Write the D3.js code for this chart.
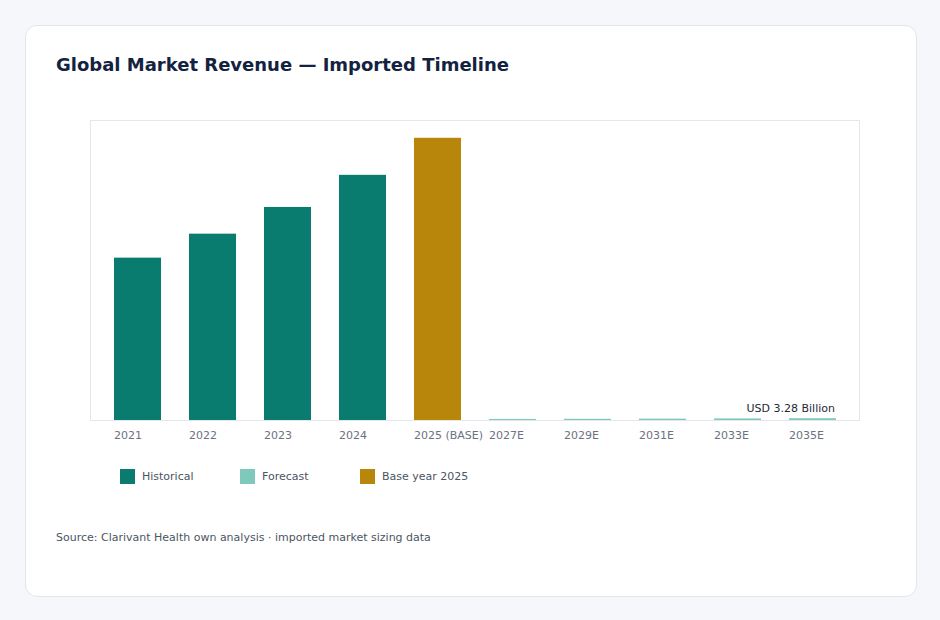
<!DOCTYPE html>
<html><head><meta charset="utf-8">
<script src="https://cdn.jsdelivr.net/npm/d3@7"></script>
<style>
html,body{margin:0;padding:0;background:#f5f7fa;}
body{width:940px;height:620px;position:relative;font-family:"DejaVu Sans",sans-serif;}
.card{position:absolute;left:25px;top:25px;width:890px;height:570px;background:#fff;border:1px solid #e1e6ec;border-radius:12px;}
svg{position:absolute;left:0;top:0;}
</style></head>
<body>
<div class="card"></div>
<svg id="chart" width="940" height="620"></svg>
<script>
const categories = ["2021","2022","2023","2024","2025 (BASE)","2027E","2029E","2031E","2033E","2035E"];
const values = [298, 342, 391, 450, 518, 1.9, 2.2, 2.5, 2.9, 3.28];
const kinds = ["hist","hist","hist","hist","base","fore","fore","fore","fore","fore"];
const legendLabels = ["Historical","Forecast","Base year 2025"];
const legendKinds = ["hist","fore","base"];
const colors = {hist:"#0a7c6f", fore:"#7fc8bc", base:"#b8860b"};

const svg = d3.select("#chart");
const plot = {x0:90, x1:860, y0:120, y1:420};

svg.append("text").attr("x",56).attr("y",71)
  .attr("font-size",18).attr("font-weight","bold").attr("fill","#13233f")
  .text("Global Market Revenue — Imported Timeline");

svg.append("rect").attr("x",plot.x0+0.5).attr("y",plot.y0+0.5)
  .attr("width",plot.x1-plot.x0-1).attr("height",plot.y1-plot.y0)
  .attr("fill","none").attr("stroke","#e3e6ea");

const x = d3.scaleBand().domain(categories).range([plot.x0,plot.x1])
  .paddingInner(0.373).paddingOuter(0.32);
const y = d3.scaleLinear().domain([0, d3.max(values)*1.063]).range([plot.y1,plot.y0]);

svg.selectAll("rect.bar").data(categories).join("rect").attr("class","bar")
  .attr("x",d=>x(d)).attr("width",x.bandwidth())
  .attr("y",(d,i)=>y(values[i])).attr("height",(d,i)=>y(0)-y(values[i]))
  .attr("fill",(d,i)=>colors[kinds[i]]);

const ax = svg.append("g").attr("transform",`translate(0,${plot.y1})`)
  .call(d3.axisBottom(x).tickSize(0).tickPadding(0));
ax.select(".domain").remove();
ax.selectAll(".tick text").attr("text-anchor","start")
  .attr("x",x.bandwidth()/-2 ).attr("y",19).attr("dy",0)
  .attr("font-family","DejaVu Sans").attr("font-size",11).attr("fill","#6b7280");

const last = categories[categories.length-1];
svg.append("text").attr("x",x(last)+x.bandwidth()-1).attr("y",412)
  .attr("text-anchor","end").attr("font-size",11).attr("fill","#1f2937")
  .text("USD " + values[values.length-1].toFixed(2) + " Billion");

const lg = svg.append("g");
legendLabels.forEach((l,i)=>{
  const gx = 120 + i*120;
  lg.append("rect").attr("x",gx).attr("y",469).attr("width",15).attr("height",15).attr("fill",colors[legendKinds[i]]);
  lg.append("text").attr("x",gx+22).attr("y",480).attr("font-size",11).attr("fill","#4b5563").text(l);
});

svg.append("text").attr("x",56).attr("y",541).attr("font-size",11).attr("fill","#4b5563")
  .text("Source: Clarivant Health own analysis · imported market sizing data");
</script>
</body></html>
